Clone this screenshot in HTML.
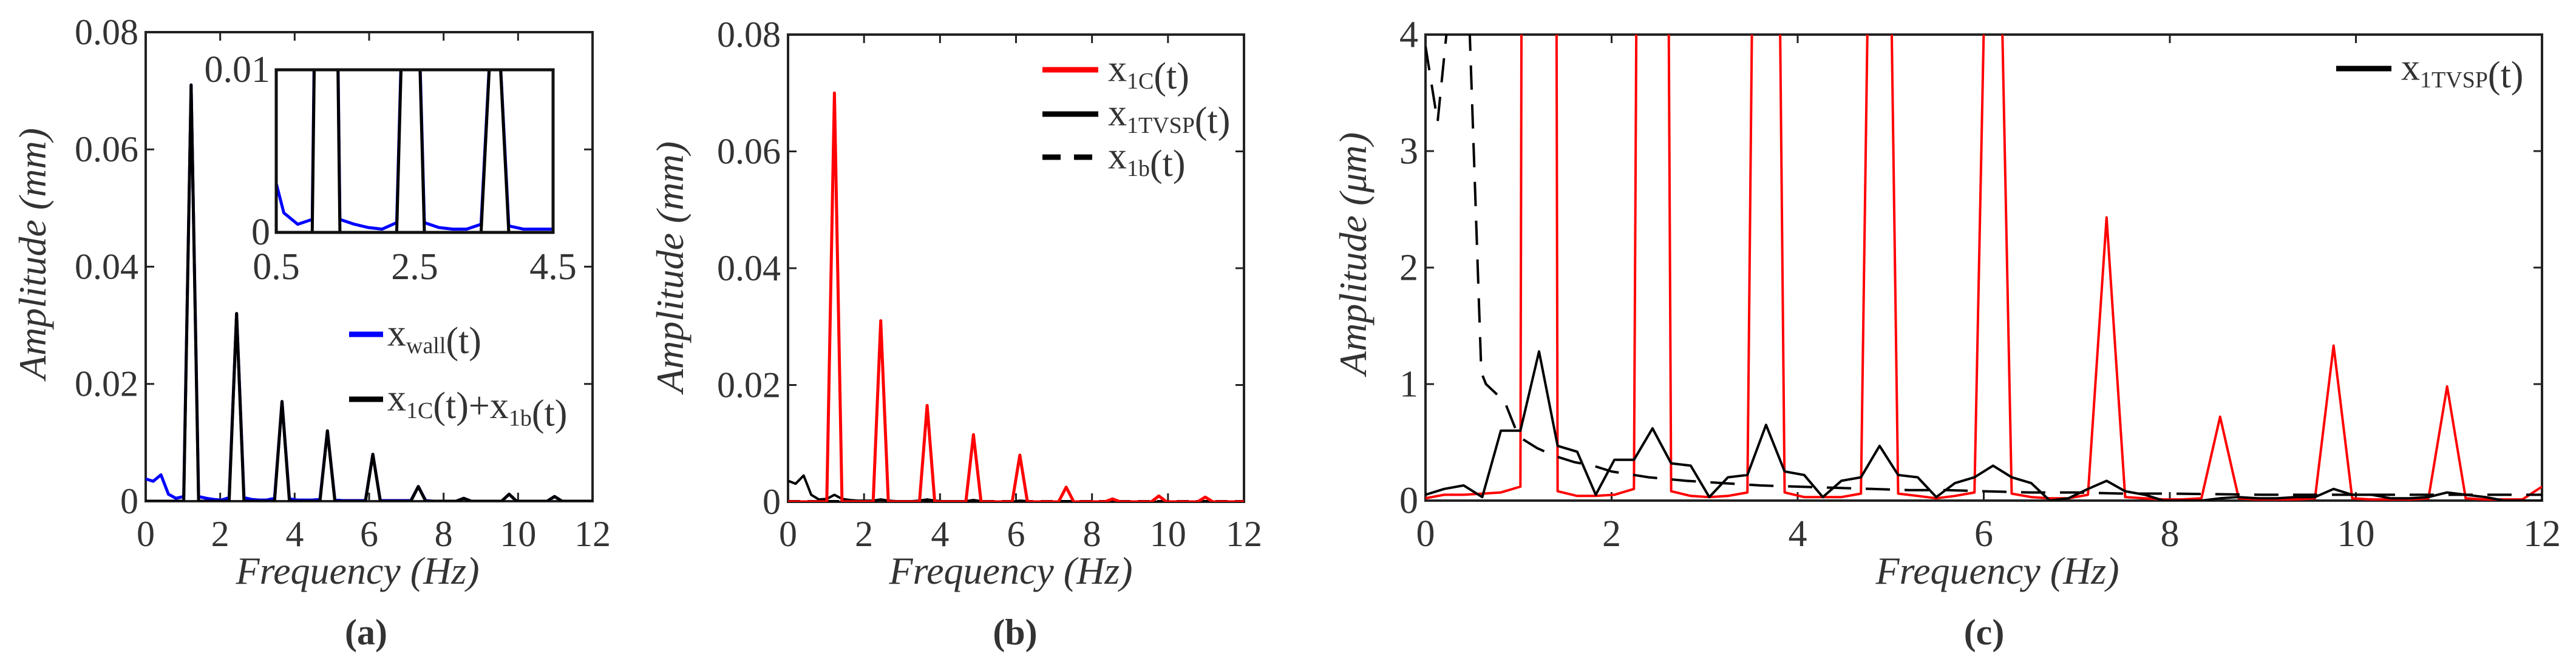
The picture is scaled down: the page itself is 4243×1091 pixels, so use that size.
<!DOCTYPE html>
<html><head><meta charset="utf-8"><style>
html,body{margin:0;padding:0;background:#fff;}
svg{display:block;}
text{font-family:"Liberation Serif","DejaVu Serif",serif;fill:#333;}
</style></head><body>
<svg id="fig" width="4243" height="1091" viewBox="0 0 4243 1091" xmlns="http://www.w3.org/2000/svg" font-family="Liberation Serif, DejaVu Serif, serif"></svg>
<script>
const freq=[0,0.2,0.41,0.61,0.81,1.02,1.22,1.42,1.63,1.83,2.03,2.24,2.44,2.64,2.85,3.05,3.25,3.46,3.66,3.86,4.07,4.27,4.47,4.68,4.88,5.08,5.29,5.49,5.69,5.9,6.1,6.3,6.51,6.71,6.91,7.12,7.32,7.52,7.73,7.93,8.13,8.34,8.54,8.74,8.95,9.15,9.35,9.56,9.76,9.96,10.17,10.37,10.57,10.78,10.98,11.18,11.39,11.59,11.79,12.0];
const xTicks=[0,2,4,6,8,10,12];
const yTicksMm=[0,0.02,0.04,0.06,0.08];
const yTicksUm=[0,1,2,3,4];
const insetXTicks=[0.5,2.5,4.5];
const insetYTicks=[0,0.01];
const a_sum=[0,0,0,0,0,0,0.071,0,0,0,0,0,0.032,0,0,0,0,0,0.017,0,0,0,0,0,0.012,0,0,0,0,0,0.008,0,0,0,0,0,0.0025,0,0,0,0,0,0.0005,0,0,0,0,0,0.0012,0,0,0,0,0,0.0008,0,0,0,0,0];
const a_wall=[0.0038,0.0034,0.0045,0.0012,0.0005,0.0008,0.071,0.0008,0.0005,0.0003,0.0002,0.0006,0.032,0.0006,0.0003,0.0002,0.0002,0.0005,0.017,0.0004,0.0002,0.0002,0.0002,0.0003,0.012,0.0002,0.0001,0.0001,0.0001,0.0001,0.008,0.0001,0.0001,0.0001,0.0001,0.0001,0.0025,0.0001,0,0,0,0,0.0005,0,0,0,0,0,0.0012,0,0,0,0,0,0.0008,0,0,0,0,0];
const b_1c=[0,0,0,0,0,0,0.070,0,0,0,0,0,0.031,0,0,0,0,0,0.0165,0,0,0,0,0,0.0115,0,0,0,0,0,0.008,0,0,0,0,0,0.0025,0,0,0,0,0,0.0005,0,0,0,0,0,0.001,0,0,0,0,0,0.0008,0,0,0,0,0];
const b_tvsp=[0.0036,0.0031,0.0045,0.0012,0.0004,0.0005,0.0012,0.0005,0.0003,0.0002,0.0002,0.0002,0.0004,0.0002,0.0001,0.0001,0.0001,0.0002,0.0004,0.0002,0.0001,0.0001,0.0001,0.0001,0.0003,0.0001,0.0001,0,0,0,0.0002,0.0001,0,0,0,0,0.0001,0,0,0,0,0,0,0,0,0,0,0,0,0,0,0,0,0,0,0,0,0,0,0];
const b_1b=[0.0001,0.0001,0.0001,0.0001,0.0001,0.0001,0.0001,0.0001,0.0001,0.0001,0.0001,0.0001,0.0001,0.0001,0.0001,0.0001,0.0001,0.0001,0.0001,0.0001,0.0001,0.0001,0.0001,0.0001,0.0001,0.0001,0.0001,0.0001,0.0001,0.0001,0.0001,0.0001,0.0001,0.0001,0.0001,0.0001,0.0001,0.0001,0.0001,0.0001,0.0001,0.0001,0.0001,0.0001,0.0001,0.0001,0.0001,0.0001,0.0001,0.0001,0.0001,0.0001,0.0001,0.0001,0.0001,0.0001,0.0001,0.0001,0.0001,0.0001];
const c_1c=[0.02,0.05,0.05,0.06,0.07,0.12,70,0.08,0.04,0.04,0.05,0.1,31,0.08,0.04,0.03,0.04,0.07,16.5,0.07,0.03,0.03,0.03,0.06,11.5,0.06,0.04,0.02,0.04,0.07,8,0.06,0.03,0.02,0.02,0.05,2.43,0.03,0.02,0.01,0.01,0.02,0.72,0.02,0.01,0.01,0.01,0.02,1.33,0.02,0.01,0.01,0.01,0.02,0.98,0.02,0.01,0.01,0.01,0.12];
const c_tvsp=[0.05,0.1,0.13,0.03,0.6,0.6,1.28,0.47,0.42,0.05,0.35,0.35,0.62,0.32,0.3,0.03,0.2,0.22,0.65,0.25,0.22,0.03,0.17,0.2,0.47,0.22,0.2,0.03,0.15,0.2,0.3,0.2,0.15,0,0.02,0.1,0.17,0.08,0.05,0,0,0,0.02,0.03,0.02,0.02,0.03,0.03,0.1,0.05,0.05,0.02,0.02,0.03,0.07,0.05,0.03,0,0,0];
const c_1bFreq=[0,0.13,0.3,0.45,0.6,0.65,0.85,1.0,1.2,1.4,1.6,1.8,2.0,2.4,2.8,3.2,3.6,4.0,4.4,4.8,5.2,5.6,6.0,6.5,7.0,7.5,8.0,9.0,10.0,11.0,12.0];
const c_1b=[3.9,3.25,4.6,4.6,1.1,1.0,0.85,0.55,0.45,0.38,0.33,0.3,0.25,0.2,0.17,0.15,0.13,0.12,0.11,0.1,0.09,0.09,0.08,0.07,0.07,0.06,0.06,0.05,0.05,0.05,0.05];

const svg=document.getElementById('fig');
const NS='http://www.w3.org/2000/svg';
function el(tag,attrs,parent){const e=document.createElementNS(NS,tag);for(const k in attrs)e.setAttribute(k,attrs[k]);(parent||svg).appendChild(e);return e;}
let clipId=0;
function makeAxes(box,xmin,xmax,ymin,ymax){
  const sx=v=>box.x0+(v-xmin)/(xmax-xmin)*(box.x1-box.x0);
  const sy=v=>box.y1-(v-ymin)/(ymax-ymin)*(box.y1-box.y0);
  return {sx,sy};
}
function drawLine(g,xs,ys,ax,stroke,width,dash,name){
  let d='';
  for(let i=0;i<xs.length;i++){d+=(i?'L':'M')+ax.sx(xs[i]).toFixed(1)+','+ax.sy(ys[i]).toFixed(1);}
  const p=el('path',{d:d,fill:'none',stroke:stroke,'stroke-width':width,'stroke-linejoin':'round'},g);
  if(dash)p.setAttribute('stroke-dasharray',dash);
  
  
  return p;
}
function frame(box,name,xt,yt,ax,fs,fmtY,tickLen,xLabY){
  const g=el('g',{});
  
  
  el('rect',{x:box.x0,y:box.y0,width:box.x1-box.x0,height:box.y1-box.y0,fill:'none',stroke:'#222','stroke-width':4},g);
  xt.forEach(v=>{
    const x=ax.sx(v);
    el('line',{x1:x,y1:box.y1,x2:x,y2:box.y1-tickLen,stroke:'#222','stroke-width':3},g);
    el('line',{x1:x,y1:box.y0,x2:x,y2:box.y0+tickLen,stroke:'#222','stroke-width':3},g);
    const t=el('text',{x:x,y:xLabY,'font-size':fs,'text-anchor':'middle'},g);
    t.textContent=String(v);
    
    
  });
  yt.forEach(v=>{
    const y=ax.sy(v);
    el('line',{x1:box.x0,y1:y,x2:box.x0+tickLen,y2:y,stroke:'#222','stroke-width':3},g);
    el('line',{x1:box.x1,y1:y,x2:box.x1-tickLen,y2:y,stroke:'#222','stroke-width':3},g);
    const t=el('text',{x:box.x0-12,y:y+fs*0.33,'font-size':fs,'text-anchor':'end'},g);
    t.textContent=fmtY(v);
    
    
  });
  return g;
}
function clipGroup(box){
  const id='c'+(clipId++);
  const cp=el('clipPath',{id:id});
  el('rect',{x:box.x0,y:box.y0,width:box.x1-box.x0,height:box.y1-box.y0},cp);
  return el('g',{'clip-path':'url(#'+id+')'});
}
function label(x,y,txt,fs,opts,name){
  const t=el('text',Object.assign({x:x,y:y,'font-size':fs},opts||{}));
  t.textContent=txt;
  
  
  return t;
}
function legendEntry(x1,x2,y,stroke,dash,tx,parts,fs,name){
  const g=el('g',{});
  
  
  const l=el('line',{x1:x1,y1:y,x2:x2,y2:y,stroke:stroke,'stroke-width':9},g);
  if(dash)l.setAttribute('stroke-dasharray',dash);
  const t=el('text',{x:tx,y:y+fs*0.3,'font-size':fs,fill:'#222'},g);
  parts.forEach(p=>{
    const s=el('tspan',{},t);
    if(p[1]){s.setAttribute('font-size',Math.round(fs*0.62));s.setAttribute('dy',fs*0.2);}
    else{s.setAttribute('font-size',fs);}
    s.textContent=p[0];
    if(p[1]){const r=el('tspan',{dy:-fs*0.2,'font-size':fs},t);r.textContent='';}
  });
  return g;
}
const fmtMm=v=>v===0?'0':v.toFixed(2);

// Panel a
const boxA={x0:240,x1:976,y0:53,y1:826};
const axA=makeAxes(boxA,0,12,0,0.08);
frame(boxA,'panel-a-axes',xTicks,yTicksMm,axA,60,fmtMm,14,900);
const gA=clipGroup(boxA);
drawLine(gA,freq,a_wall,axA,'#0000ff',5,null,'wall-line-a');
drawLine(gA,freq,a_sum,axA,'#000',5,null,'sum-line-a');
label(75,418,'Amplitude (mm)',64,{'font-style':'italic','text-anchor':'middle',transform:'rotate(-90 75 418)',fill:'#111'},'y-axis-title-a');
label(589,962,'Frequency (Hz)',64,{'font-style':'italic','text-anchor':'middle',fill:'#111'},'x-axis-title-a');
label(603,1062,'(a)',60,{'font-weight':'bold','text-anchor':'middle',fill:'#111'},'panel-label-a');
legendEntry(575,631,551,'#0000ff',null,638,[['x',0],['wall',1],['(t)',0]],62,'legend-wall');
legendEntry(575,631,658,'#000',null,638,[['x',0],['1C',1],['(t)+x',0],['1b',1],['(t)',0]],62,'legend-sum');
// inset
const boxI={x0:455,x1:911,y0:115,y1:383};
const axI=makeAxes(boxI,0.5,4.5,0,0.01);
el('rect',{x:boxI.x0,y:boxI.y0,width:boxI.x1-boxI.x0,height:boxI.y1-boxI.y0,fill:'#fff',stroke:'none'});
const gI=clipGroup(boxI);


drawLine(gI,freq,a_wall,axI,'#0000ff',5,null,'wall-line-inset');
drawLine(gI,freq,a_sum,axI,'#000',5,null,'sum-line-inset');
el('rect',{x:boxI.x0,y:boxI.y0,width:boxI.x1-boxI.x0,height:boxI.y1-boxI.y0,fill:'none',stroke:'#111','stroke-width':5});
insetXTicks.forEach(v=>{label(axI.sx(v),460,String(v),62,{'text-anchor':'middle'},'inset-x-tick');});
insetYTicks.forEach(v=>{label(boxI.x0-10,axI.sy(v)+20,v===0?'0':'0.01',62,{'text-anchor':'end'},'inset-y-tick');});

// Panel b
const boxB={x0:1298,x1:2049,y0:57,y1:827};
const axB=makeAxes(boxB,0,12,0,0.08);
frame(boxB,'panel-b-axes',xTicks,yTicksMm,axB,60,fmtMm,14,900);
const gB=clipGroup(boxB);
drawLine(gB,freq,b_1b,axB,'#000',4,'20,12','x1b-line-b');
drawLine(gB,freq,b_tvsp,axB,'#000',4,null,'tvsp-line-b');
drawLine(gB,freq,b_1c,axB,'#ff0000',5,null,'x1c-line-b');
label(1125,440,'Amplitude (mm)',64,{'font-style':'italic','text-anchor':'middle',transform:'rotate(-90 1125 440)',fill:'#111'},'y-axis-title-b');
label(1665,962,'Frequency (Hz)',64,{'font-style':'italic','text-anchor':'middle',fill:'#111'},'x-axis-title-b');
label(1672,1062,'(b)',60,{'font-weight':'bold','text-anchor':'middle',fill:'#111'},'panel-label-b');
legendEntry(1717,1809,115,'#ff0000',null,1825,[['x',0],['1C',1],['(t)',0]],62,'legend-x1c');
legendEntry(1717,1809,188,'#000',null,1825,[['x',0],['1TVSP',1],['(t)',0]],62,'legend-tvsp');
legendEntry(1717,1809,259,'#000','30,22',1825,[['x',0],['1b',1],['(t)',0]],62,'legend-x1b');

// Panel c
const boxC={x0:2348,x1:4187,y0:57,y1:825};
const axC=makeAxes(boxC,0,12,0,4);
frame(boxC,'panel-c-axes',xTicks,yTicksUm,axC,62,v=>String(v),14,900);
const gC=clipGroup(boxC);
drawLine(gC,freq,c_1c,axC,'#ff0000',4,null,'x1c-line-c');
drawLine(gC,c_1bFreq,c_1b,axC,'#000',4,'40,24','x1b-line-c');
drawLine(gC,freq,c_tvsp,axC,'#000',4,null,'tvsp-line-c');
label(2250,418,'Amplitude (\u03bcm)',64,{'font-style':'italic','text-anchor':'middle',transform:'rotate(-90 2250 418)',fill:'#111'},'y-axis-title-c');
label(3290,962,'Frequency (Hz)',64,{'font-style':'italic','text-anchor':'middle',fill:'#111'},'x-axis-title-c');
label(3268,1062,'(c)',60,{'font-weight':'bold','text-anchor':'middle',fill:'#111'},'panel-label-c');
legendEntry(3848,3939,113,'#000',null,3955,[['x',0],['1TVSP',1],['(t)',0]],62,'legend-tvsp-c');
</script>
</body></html>
